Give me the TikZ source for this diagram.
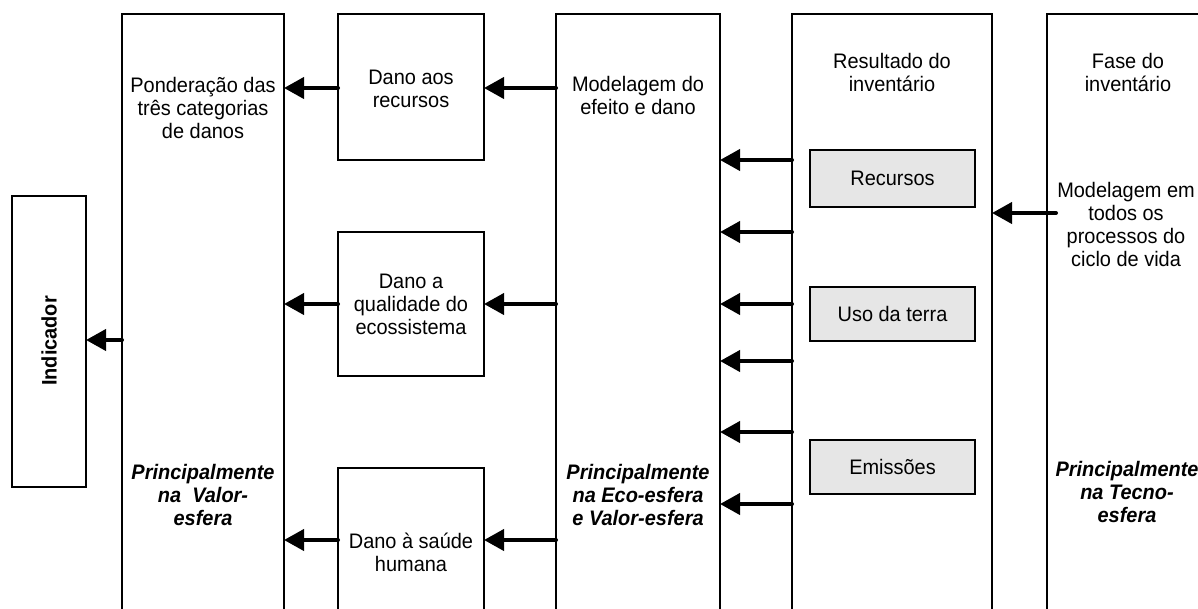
\documentclass[tikz,border=0pt]{standalone}
\usepackage{fontspec}
\setmainfont{Liberation Sans}[FakeStretch=0.95]
\usetikzlibrary{arrows.meta}
\definecolor{boxgray}{HTML}{E6E6E6}
\begin{document}
\begin{tikzpicture}[x=1pt,y=-1pt,
  box/.style={draw=black,line width=1.3pt,inner sep=0pt,outer sep=0pt,anchor=north west},
  graybox/.style={box,fill=boxgray},
  txt/.style={align=center,inner sep=0pt,font=\fontsize{21}{23}\selectfont},
  btxt/.style={txt,font=\fontsize{21}{23}\selectfont\bfseries\itshape},
  arr/.style={line width=4pt,line cap=round,-{Triangle[length=20pt,width=21pt,line cap=butt]}}]
\useasboundingbox (0,0) rectangle (1198,608);
\begin{scope}
\clip (0,0) rectangle (1198,608);
% boxes
\node[box,minimum width=74pt,minimum height=291pt] (ind) at (12,196) {};
\node[box,minimum width=162pt,minimum height=620pt] (pond) at (122,14) {};
\node[box,minimum width=146pt,minimum height=146pt] (dar) at (338,14) {};
\node[box,minimum width=146pt,minimum height=144pt] (daq) at (338,232) {};
\node[box,minimum width=146pt,minimum height=170pt] (dsh) at (338,468) {};
\node[box,minimum width=164pt,minimum height=620pt] (mod) at (556,14) {};
\node[box,minimum width=200pt,minimum height=620pt] (res) at (792,14) {};
\node[box,minimum width=220pt,minimum height=620pt] (fase) at (1047,14) {};
\node[graybox,minimum width=165pt,minimum height=57pt] (rec) at (810,150) {};
\node[graybox,minimum width=165pt,minimum height=54pt] (uso) at (810,287) {};
\node[graybox,minimum width=165pt,minimum height=54pt] (emi) at (810,440) {};
% texts
\node[txt,font=\fontsize{21}{23}\selectfont\bfseries,rotate=90] (indt) at (49,341) {Indicador};
\node[txt] (pondt) at (203,108) {Ponderação das\\três categorias\\de danos};
\node[btxt] (pondb) at (203,495) {Principalmente\\na\ \ Valor-\\esfera};
\node[txt] (dart) at (411,89) {Dano aos\\recursos};
\node[txt] (daqt) at (411,304) {Dano a\\qualidade do\\ecossistema};
\node[txt] (dsht) at (411,552) {Dano à saúde\\humana};
\node[txt] (modt) at (638,95) {Modelagem do\\efeito e dano};
\node[btxt] (modb) at (638,495) {Principalmente\\na Eco-esfera\\e Valor-esfera};
\node[txt] (rest) at (892,72) {Resultado do\\inventário};
\node[txt] (rect) at (rec.center) {Recursos};
\node[txt] (usot) at (uso.center) {Uso da terra};
\node[txt] (emit) at (emi.center) {Emissões};
\node[txt] (faset) at (1128,72) {Fase do\\inventário};
\node[txt] (fasem) at (1126,224) {Modelagem em\\todos os\\processos do\\ciclo de vida};
\node[btxt] (faseb) at (1127,492) {Principalmente\\na Tecno-\\esfera};
% arrows
\draw[arr] (dar.west |- 0,88) -- (pond.east |- 0,88);
\draw[arr] (mod.west |- 0,88) -- (dar.east |- 0,88);
\draw[arr] (daq.west |- 0,304) -- (pond.east |- 0,304);
\draw[arr] (mod.west |- 0,304) -- (daq.east |- 0,304);
\draw[arr] (dsh.west |- 0,540) -- (pond.east |- 0,540);
\draw[arr] (mod.west |- 0,540) -- (dsh.east |- 0,540);
\draw[arr] (pond.west |- 0,340) -- (ind.east |- 0,340);
\foreach \yy in {160,232,304,361,432,504}
  \draw[arr] (res.west |- 0,\yy) -- (mod.east |- 0,\yy);
\draw[arr] ([xshift=9pt]fase.west |- 0,213) -- (res.east |- 0,213);
\end{scope}
\end{tikzpicture}
\end{document}
